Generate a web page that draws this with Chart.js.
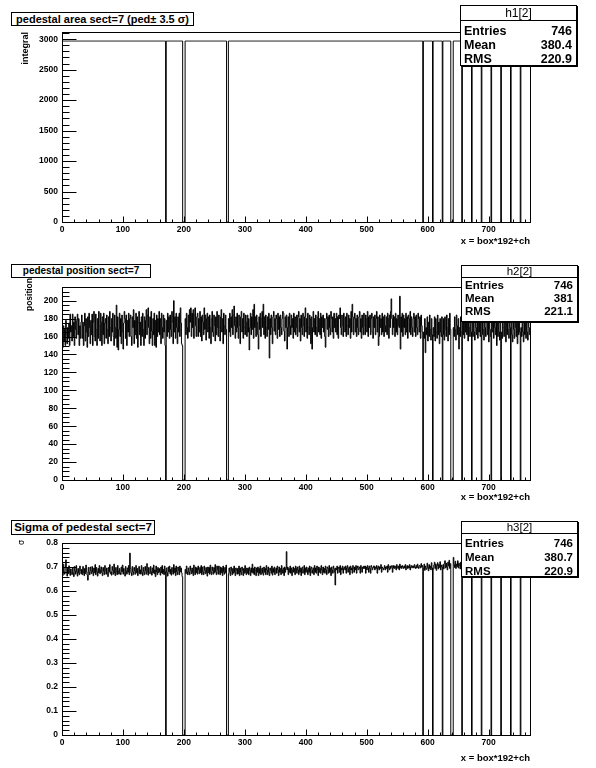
<!DOCTYPE html>
<html>
<head>
<meta charset="utf-8">
<title>pedestal sect=7</title>
<script src="https://cdn.jsdelivr.net/npm/chart.js@4.4.1/dist/chart.umd.min.js"></script>
<style>
  body { margin: 0; background: #fff; }
  #page { position: relative; width: 596px; height: 768px; overflow: hidden; font-family: 'Liberation Sans', Arial, sans-serif; color: #000; }
  .pad { position: absolute; left: 0; width: 596px; height: 256px; }
  .pad canvas { position: absolute; left: 0; top: 0; }
  .title { position: absolute; border: 1px solid #000; background: #fff; font-weight: bold; text-align: center; white-space: nowrap; box-sizing: border-box; }
  .stats { position: absolute; border: 1px solid #000; box-shadow: 1px 1px 0 #000; background: #fff; box-sizing: border-box; }
  .stats .hdr { position: absolute; left: 0; right: 0; top: 0; text-align: center; border-bottom: 1px solid #000; }
  .stats .row { position: absolute; left: 3px; right: 4px; display: flex; justify-content: space-between; font-weight: bold; }
</style>
</head>
<body>
<div id="page">
  <div class="pad" style="top:0">
    <canvas id="area" width="596" height="256"></canvas>
    <div class="title" style="left:11px;top:12px;width:183px;height:14px;font-size:11px;line-height:12px">pedestal area sect=7 (ped&plusmn; 3.5 &sigma;)</div>
    <div class="stats" id="stats1" style="left:460px;top:5px;width:117px;height:61px"></div>
  </div>
  <div class="pad" style="top:256px">
    <canvas id="position" width="596" height="256"></canvas>
    <div class="title" style="left:11px;top:8px;width:140px;height:14px;font-size:10px;line-height:12px">pedestal position sect=7</div>
    <div class="stats" id="stats2" style="left:461px;top:9px;width:117px;height:57px"></div>
  </div>
  <div class="pad" style="top:512px">
    <canvas id="sigma" width="596" height="256"></canvas>
    <div class="title" style="left:11px;top:8px;width:144px;height:15px;font-size:11.5px;line-height:13px">Sigma of pedestal sect=7</div>
    <div class="stats" id="stats3" style="left:461px;top:9px;width:117px;height:56px"></div>
  </div>
</div>
<script>
const nBins = 768;
const xTickValues = [0, 100, 200, 300, 400, 500, 600, 700];

// channels with no pedestal (empty bins in all three histograms)
const deadChannels = [170, 198, 199, 200, 201, 270, 271, 272, 592, 608, 624, 638, 639, 640, 641,
  656, 672, 688, 704, 720, 736, 752];
const areaLevel = 2970;

// pedestal position per channel, 16 channels per row
const positionValues = [
  160,148,172,155,168,150,178,162,152,170,158,175,150,185,165,172,
  155,185,160,176,150,182,168,158,178,185,162,180,150,172,158,176,
  184,158,176,150,172,186,155,180,165,148,182,160,186,170,152,178,
  162,185,150,176,188,160,155,185,168,150,180,158,188,172,155,186,
  176,150,182,162,186,152,175,180,158,184,168,152,182,160,188,170,
  155,180,165,186,160,150,184,170,158,195,148,182,145,168,186,160,
  180,152,184,165,146,175,188,180,158,184,150,178,165,186,160,180,
  184,160,150,182,170,190,152,178,162,186,158,182,148,175,188,162,
  176,150,182,160,186,168,150,182,158,178,190,162,184,192,170,152,
  182,158,188,166,150,180,162,186,150,178,148,184,160,180,165,188,
  162,180,152,186,170,158,184,165,180,150,0,178,160,186,165,182,
  158,184,168,160,188,176,152,200,165,182,158,186,170,152,182,165,
  186,160,192,175,152,150,0,0,0,0,180,162,186,170,158,184,
  165,190,176,192,160,186,170,190,158,184,192,172,160,182,186,160,
  180,165,188,160,182,155,184,176,162,192,168,184,156,180,186,165,
  182,158,184,170,152,180,188,165,160,184,172,155,182,162,188,170,
  160,184,170,155,182,190,165,180,152,186,172,162,184,168,0,0,
  0,180,165,186,160,182,170,190,162,184,194,172,158,182,165,186,
  170,158,184,172,152,182,188,165,180,158,186,170,162,184,176,160,
  184,165,180,145,170,186,162,182,168,190,158,196,170,182,160,184,
  176,162,146,182,168,186,160,180,188,170,196,162,182,158,184,170,
  160,182,168,186,136,180,162,184,170,152,182,188,166,180,162,184,
  180,158,186,168,182,160,184,170,162,180,188,186,166,155,182,170,
  184,146,170,182,160,186,172,162,184,170,180,158,186,165,182,162,
  170,184,160,182,188,165,180,155,184,170,162,186,172,160,182,192,
  165,180,158,186,170,162,184,180,152,182,146,170,188,165,180,162,
  184,170,160,182,188,165,180,162,186,158,182,170,184,165,180,160,
  148,180,186,168,182,160,184,170,162,188,180,165,182,158,186,170,
  180,165,186,162,182,158,184,180,192,170,162,184,172,160,186,180,
  165,182,160,186,172,162,184,170,180,158,188,165,196,182,162,180,
  186,165,180,160,184,170,162,182,188,165,180,158,184,170,162,186,
  172,162,184,180,165,188,160,182,170,184,162,180,186,165,158,182,
  170,184,162,180,188,165,182,150,160,184,170,180,162,186,165,182,
  160,184,172,165,182,162,186,180,158,184,170,188,202,180,162,184,
  170,182,160,186,165,180,162,184,172,170,205,146,182,165,186,160,
  184,170,180,162,186,165,182,158,184,180,165,188,162,182,170,160,
  180,186,165,182,160,184,170,162,186,180,165,182,158,184,172,165,
  0,165,158,180,142,170,162,182,155,176,160,184,168,156,180,162,
  0,170,160,182,155,180,165,158,184,162,176,152,180,165,160,182,
  0,162,180,156,182,168,160,184,170,155,180,162,186,168,0,0,
  0,0,170,160,182,168,156,184,172,162,180,146,170,160,182,165,
  0,180,162,184,158,180,165,186,162,176,155,182,170,160,184,165,
  0,176,160,196,165,156,182,170,162,184,158,180,165,186,160,176,
  0,162,182,168,156,184,170,160,180,186,162,176,154,182,168,160,
  0,180,165,186,158,182,170,162,184,150,176,160,182,165,156,180,
  0,165,158,182,170,160,184,176,154,180,162,186,168,158,182,170,
  0,180,162,154,182,168,158,184,170,160,180,152,176,162,184,165,
  0,170,160,182,165,154,180,162,184,158,176,165,156,182,170,162
];

// pedestal sigma per channel, 16 channels per row
const sigmaValues = [
  .700,.665,.712,.680,.670,.700,.730,.676,.662,.695,.672,.705,.680,.665,.692,.678,
  .668,.698,.676,.660,.702,.684,.670,.706,.680,.662,.694,.676,.668,.704,.686,.672,
  .690,.668,.702,.676,.664,.694,.672,.708,.680,.666,.645,.698,.678,.668,.700,.684,
  .672,.702,.680,.664,.696,.676,.710,.668,.698,.680,.662,.694,.676,.706,.672,.688,
  .700,.676,.664,.698,.682,.668,.706,.684,.670,.696,.678,.660,.698,.680,.710,.672,
  .680,.666,.702,.686,.670,.712,.676,.664,.698,.680,.668,.706,.684,.670,.694,.676,
  .668,.700,.680,.708,.670,.694,.676,.662,.702,.684,.670,.696,.678,.706,.668,.758,
  .694,.676,.664,.702,.680,.668,.698,.684,.670,.706,.676,.694,.664,.680,.702,.672,
  .688,.670,.706,.678,.664,.698,.680,.668,.702,.684,.670,.714,.680,.666,.698,.676,
  .672,.702,.680,.666,.696,.676,.708,.672,.688,.660,.704,.680,.668,.698,.676,.694,
  .680,.666,.700,.676,.706,.672,.690,.668,.704,.680,0,.696,.676,.662,.700,.680,
  .704,.672,.690,.666,.698,.680,.670,.710,.676,.696,.664,.704,.680,.668,.700,.686,
  .668,.704,.680,.696,.676,.660,0,0,0,0,.690,.672,.704,.680,.668,.696,
  .680,.668,.704,.686,.672,.696,.676,.664,.708,.680,.668,.700,.676,.696,.670,.704,
  .688,.672,.698,.676,.706,.668,.700,.680,.668,.704,.686,.672,.698,.676,.662,.700,
  .676,.698,.670,.708,.680,.668,.700,.686,.670,.698,.676,.710,.680,.668,.704,.688,
  .670,.704,.680,.668,.700,.676,.696,.664,.704,.680,.670,.698,.676,.708,0,0,
  0,.672,.696,.680,.664,.700,.684,.668,.694,.674,.704,.678,.664,.696,.686,.670,
  .694,.672,.704,.664,.696,.678,.668,.700,.686,.664,.694,.674,.706,.678,.668,.696,
  .674,.694,.668,.700,.686,.664,.696,.678,.712,.674,.694,.668,.700,.686,.664,.696,
  .678,.700,.664,.694,.674,.704,.668,.688,.696,.674,.666,.700,.678,.694,.668,.706,
  .688,.668,.700,.678,.664,.696,.686,.674,.704,.666,.694,.678,.700,.668,.688,.696,
  .674,.704,.688,.664,.700,.678,.694,.668,.706,.688,.674,.696,.664,.700,.678,.694,
  .764,.688,.700,.668,.694,.678,.704,.674,.696,.664,.688,.700,.678,.694,.668,.704,
  .694,.674,.700,.688,.668,.704,.678,.696,.664,.694,.700,.674,.688,.706,.668,.696,
  .678,.700,.688,.668,.696,.678,.704,.664,.694,.700,.674,.688,.696,.668,.706,.678,
  .696,.674,.704,.688,.664,.700,.678,.694,.674,.706,.688,.668,.700,.678,.694,.674,
  .704,.688,.668,.700,.694,.674,.706,.678,.696,.664,.700,.688,.674,.704,.694,.678,
  .625,.696,.688,.704,.674,.694,.700,.678,.706,.668,.696,.688,.704,.674,.694,.700,
  .688,.704,.674,.696,.706,.678,.694,.700,.668,.704,.688,.696,.674,.706,.694,.678,
  .700,.688,.706,.674,.696,.704,.688,.694,.700,.674,.706,.696,.678,.700,.694,.704,
  .694,.704,.674,.700,.688,.706,.696,.678,.704,.694,.674,.706,.700,.688,.696,.704,
  .704,.688,.700,.694,.706,.674,.696,.704,.688,.700,.694,.710,.678,.700,.696,.688,
  .696,.706,.688,.700,.694,.704,.678,.710,.696,.688,.704,.694,.700,.706,.678,.696,
  .706,.694,.704,.696,.688,.710,.700,.694,.704,.688,.712,.696,.704,.694,.706,.700,
  .694,.704,.696,.710,.688,.700,.706,.694,.704,.696,.710,.688,.700,.706,.696,.704,
  .704,.696,.710,.700,.694,.706,.696,.712,.700,.694,.706,.704,.696,.714,.700,.706,
  0,.696,.712,.686,.704,.694,.690,.716,.698,.684,.710,.694,.704,.688,.718,.696,
  0,.690,.708,.720,.694,.712,.686,.706,.718,.692,.710,.698,.722,.688,.708,.700,
  0,.710,.692,.714,.726,.696,.716,.700,.688,.720,.704,.728,.694,.714,0,0,
  0,0,.740,.710,.698,.724,.694,.712,.702,.726,.696,.716,.706,.692,.720,.700,
  0,.712,.696,.724,.704,.692,.720,.700,.730,.696,.714,.704,.722,.694,.710,.718,
  0,.704,.722,.694,.712,.728,.698,.718,.706,.692,.722,.702,.714,.730,.696,.716,
  0,.714,.696,.726,.706,.694,.722,.702,.716,.696,.728,.706,.692,.720,.712,.700,
  0,.720,.700,.712,.692,.726,.704,.716,.696,.712,.728,.700,.716,.692,.722,.706,
  0,.706,.724,.696,.716,.702,.712,.692,.722,.706,.700,.728,.712,.696,.716,.702,
  0,.716,.694,.712,.728,.700,.720,.706,.692,.724,.712,.696,.716,.704,.720,.692,
  0,.700,.722,.706,.692,.716,.726,.696,.712,.700,.720,.692,.706,.716,.696,.712
];

const areaTicks = [0, 500, 1000, 1500, 2000, 2500, 3000];
const positionTicks = [0, 20, 40, 60, 80, 100, 120, 140, 160, 180, 200];
const sigmaTicks = [0, 0.1, 0.2, 0.3, 0.4, 0.5, 0.6, 0.7, 0.8];

const statsRows = {
  stats1: ['h1[2]', ['Entries', '746'], ['Mean', '380.4'], ['RMS', '220.9']],
  stats2: ['h2[2]', ['Entries', '746'], ['Mean', '381'], ['RMS', '221.1']],
  stats3: ['h3[2]', ['Entries', '746'], ['Mean', '380.7'], ['RMS', '220.9']]
};

const areaValues = Array.from({ length: nBins }, (_, i) => deadChannels.includes(i) ? 0 : areaLevel);

/** Turns bin contents into the points of a step outline */
function toSteps(values) {
  const pts = values.map((v, i) => ({ x: i, y: v }));
  pts.push({ x: values.length, y: values[values.length - 1] });
  return pts;
}

/** Fills a stats box in the style of the ROOT one */
function fillStats(id, layout) {
  const [name, ...rows] = statsRows[id];
  const box = document.getElementById(id);
  let html = `<div class="hdr" style="height:${layout.hdr}px;line-height:${layout.hdr}px;font-size:${layout.hdrFont}px">${name}</div>`;
  rows.forEach((r, k) => {
    const top = layout.first + k * layout.step;
    html += `<div class="row" style="top:${top}px;line-height:${layout.step}px;font-size:${layout.font}px"><span>${r[0]}</span><span>${r[1]}</span></div>`;
  });
  box.innerHTML = html;
}

// inward ROOT-style tick marks, frame and rotated y title
const rootAxes = {
  id: 'rootAxes',
  afterDatasetsDraw(chart, args, o) {
    const { ctx, chartArea: a, scales: { x, y } } = chart;
    ctx.save();
    ctx.strokeStyle = '#000';
    ctx.lineWidth = 1;
    ctx.beginPath();
    const bottom = Math.round(a.bottom) + 0.5;
    const left = Math.round(a.left) + 0.5;
    for (let k = 0; k * 20 <= x.max; k++) {
      const px = Math.round(x.getPixelForValue(k * 20)) + 0.5;
      const len = k % 5 === 0 ? 6 : 3;
      ctx.moveTo(px, bottom);
      ctx.lineTo(px, bottom - len);
    }
    for (let k = 0; k * o.yMinor <= y.max + 1e-9; k++) {
      const py = Math.round(y.getPixelForValue(k * o.yMinor)) + 0.5;
      const len = k % o.perMajor === 0 ? 14 : 7;
      ctx.moveTo(left, py);
      ctx.lineTo(left + len, py);
    }
    ctx.stroke();
    ctx.strokeRect(left, Math.round(a.top) + 0.5, Math.round(a.right - a.left), Math.round(a.bottom - a.top));

    ctx.translate(o.titleX, o.titleY);
    ctx.rotate(-Math.PI / 2);
    ctx.fillStyle = '#000';
    ctx.font = o.titleFont;
    ctx.textAlign = 'right';
    ctx.textBaseline = 'middle';
    ctx.fillText(o.title, 0, 0);
    ctx.restore();
  }
};

const tickFont = { family: "'Liberation Sans', Arial, sans-serif", size: 8.5, weight: 'bold' };

function makePad(canvasId, values, yTicks, cfg) {
  return new Chart(document.getElementById(canvasId), {
    type: 'line',
    data: {
      datasets: [{
        data: toSteps(values),
        stepped: 'before',
        borderColor: '#000',
        borderWidth: 1,
        pointRadius: 0,
        fill: false
      }]
    },
    options: {
      responsive: false,
      animation: false,
      devicePixelRatio: 1,
      layout: { padding: { top: cfg.top, right: 66, left: 0, bottom: 0 } },
      plugins: {
        legend: { display: false },
        tooltip: { enabled: false },
        rootAxes: cfg.axes
      },
      scales: {
        x: {
          type: 'linear',
          min: 0,
          max: nBins,
          grid: { display: false, drawTicks: false },
          border: { display: false },
          afterBuildTicks: s => { s.ticks = xTickValues.map(v => ({ value: v })); },
          afterFit: s => { s.height = 256 - cfg.bottom; },
          ticks: { padding: 3, maxRotation: 0, autoSkip: false, color: '#000', font: tickFont, callback: v => String(v) },
          title: {
            display: true,
            text: 'x = box*192+ch',
            align: 'end',
            color: '#000',
            font: { family: "'Liberation Sans', Arial, sans-serif", size: 9.5, weight: 'bold' },
            padding: { top: 0, bottom: cfg.xTitlePad }
          }
        },
        y: {
          type: 'linear',
          min: 0,
          max: cfg.yMax,
          grid: { display: false, drawTicks: false },
          border: { display: false },
          afterBuildTicks: s => { s.ticks = yTicks.map(v => ({ value: v })); },
          afterFit: s => { s.width = 62; },
          ticks: { padding: 4, autoSkip: false, color: '#000', font: tickFont, callback: v => String(v) }
        }
      }
    },
    plugins: [rootAxes]
  });
}

makePad('area', areaValues, areaTicks, {
  top: 32, bottom: 222, yMax: 3118.5, xTitlePad: 8.5,
  axes: { yMinor: 100, perMajor: 5, title: 'integral', titleX: 26, titleY: 32, titleFont: "bold 9px 'Liberation Sans', Arial" }
});
makePad('position', positionValues, positionTicks, {
  top: 31, bottom: 224, yMax: 215.25, xTitlePad: 9,
  axes: { yMinor: 5, perMajor: 4, title: 'position', titleX: 30, titleY: 22, titleFont: "bold 8.5px 'Liberation Sans', Arial" }
});
makePad('sigma', sigmaValues, sigmaTicks, {
  top: 31, bottom: 223, yMax: 0.8, xTitlePad: 4,
  axes: { yMinor: 0.02, perMajor: 5, title: 'σ', titleX: 22, titleY: 28, titleFont: "8px 'DejaVu Sans', sans-serif" }
});

fillStats('stats1', { hdr: 14, hdrFont: 12, first: 17.5, step: 14, font: 12.5 });
fillStats('stats2', { hdr: 11, hdrFont: 11.5, first: 13, step: 13, font: 11.5 });
fillStats('stats3', { hdr: 11, hdrFont: 11.5, first: 13.5, step: 14, font: 11.5 });
</script>
</body>
</html>
